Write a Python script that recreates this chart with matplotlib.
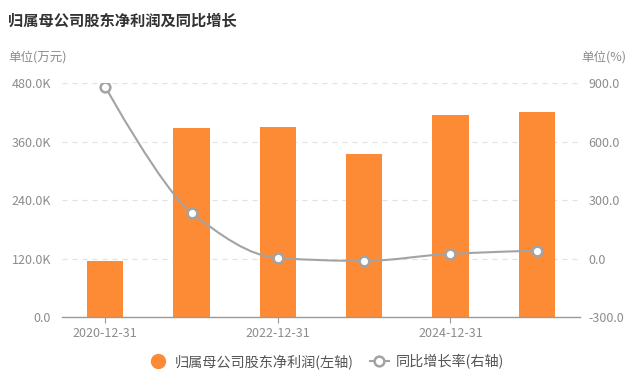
import matplotlib
matplotlib.use('Agg')
import matplotlib.pyplot as plt
from matplotlib.path import Path
from matplotlib.patches import PathPatch
from matplotlib.lines import Line2D
import numpy as np

plt.rcParams['font.family'] = ['Noto Sans CJK SC', 'DejaVu Sans']

dates = ['2020-12-31', '2021-12-31', '2022-12-31', '2023-12-31', '2024-12-31', '2025-12-31']
profit = [115.5, 389.0, 391.0, 335.0, 415.0, 421.0]   # K (万元)
growth = [882.6, 236.0, 4.0, -11.0, 26.0, 41.5]       # %

bar_color = '#fd8a35'
line_color = '#a3a3a3'
tick_color = '#8c8c8c'

fig = plt.figure(figsize=(6.4, 3.81), dpi=100)
ax = fig.add_axes([0.097, 0.1672, 0.809, 0.6142])
ax2 = ax.twinx()

x = np.arange(len(dates))
ax.bar(x, profit, width=0.42, color=bar_color, zorder=2)
ax.set_xlim(-0.5, len(dates) - 0.5)
ax.set_ylim(0, 480)
ax.set_yticks([0, 120, 240, 360, 480])
ax.set_yticklabels(['0.0', '120.0K', '240.0K', '360.0K', '480.0K'])
ax.set_xticks(x[::2])
ax.set_xticklabels(dates[::2])
ax.grid(axis='y', color='#e2e2e2', linestyle=(0, (4, 4)), linewidth=0.9, zorder=0)
ax.set_axisbelow(True)

for a in (ax, ax2):
    for s in ['top', 'right', 'left', 'bottom']:
        a.spines[s].set_visible(False)
ax.spines['bottom'].set_visible(True)
ax.spines['bottom'].set_color('#9a9a9a')
ax.spines['bottom'].set_linewidth(1.0)
ax.tick_params(axis='y', length=0, labelsize=9, labelcolor=tick_color, pad=8)
ax.tick_params(axis='x', length=4, color='#9a9a9a', labelsize=9, labelcolor=tick_color, pad=3)

ax2.set_ylim(-300, 900)
ax2.set_yticks([-300, 0, 300, 600, 900])
ax2.set_yticklabels(['-300.0', '0.0', '300.0', '600.0', '900.0'])
ax2.tick_params(axis='y', length=0, labelsize=9, labelcolor=tick_color, pad=6)

# smooth monotone line (PCHIP tangents drawn as cubic bezier segments)
xs = x.astype(float)
ys = np.array(growth, dtype=float)
n = len(xs)
h = np.diff(xs)
delta = np.diff(ys) / h
m = np.zeros(n)
for i in range(1, n - 1):
    if delta[i - 1] * delta[i] <= 0:
        m[i] = 0.0
    else:
        w1 = 2 * h[i] + h[i - 1]
        w2 = h[i] + 2 * h[i - 1]
        m[i] = (w1 + w2) / (w1 / delta[i - 1] + w2 / delta[i])
m[0] = delta[0]
m[-1] = delta[-1]
verts = [(xs[0], ys[0])]
codes = [Path.MOVETO]
for i in range(n - 1):
    d = h[i] / 3
    c1 = (xs[i] + d, ys[i] + m[i] * d) if i > 0 else (xs[i], ys[i])
    c2 = (xs[i + 1] - d, ys[i + 1] - m[i + 1] * d) if i + 1 < n - 1 else (xs[i + 1], ys[i + 1])
    verts += [c1, c2, (xs[i + 1], ys[i + 1])]
    codes += [Path.CURVE4] * 3
ax2.add_patch(PathPatch(Path(verts, codes), facecolor='none', edgecolor=line_color, lw=1.5, zorder=3))
ax2.plot(x, growth, linestyle='none', marker='o', markersize=7, markerfacecolor='white',
         markeredgecolor=line_color, markeredgewidth=1.8, zorder=4)

fig.text(0.013, 0.945, '归属母公司股东净利润及同比增长', fontsize=11, fontweight='bold',
         color='#333333', va='center', ha='left')
fig.text(0.013, 0.85, '单位(万元)', fontsize=9, color=tick_color, va='center', ha='left')
fig.text(0.978, 0.85, '单位(%)', fontsize=9, color=tick_color, va='center', ha='right')

handles = [
    Line2D([], [], linestyle='none', marker='o', markersize=10, color=bar_color),
    Line2D([], [], color=line_color, lw=1.5, marker='o', markersize=7,
           markerfacecolor='white', markeredgecolor=line_color, markeredgewidth=1.8),
]
fig.legend(handles, ['归属母公司股东净利润(左轴)', '同比增长率(右轴)'], loc='center',
           bbox_to_anchor=(0.51, 0.052), ncol=2, frameon=False, fontsize=10.2,
           labelcolor='#555555', handlelength=1.3, columnspacing=1.2, handletextpad=0.5)

fig.savefig('out.png', dpi=100)
